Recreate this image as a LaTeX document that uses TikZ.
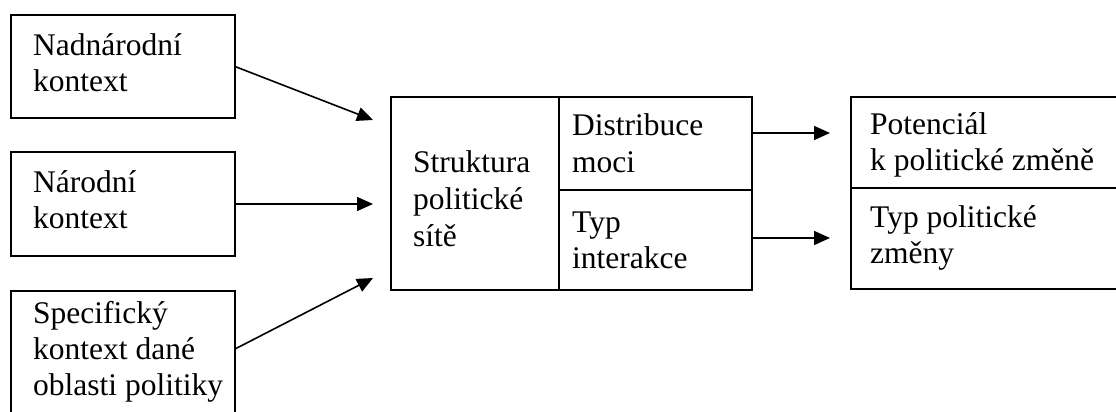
\documentclass[tikz,border=0pt]{standalone}
\usepackage{fontspec}
\setmainfont{Liberation Serif}
\usetikzlibrary{arrows.meta}
\begin{document}
\begin{tikzpicture}[x=1pt,y=-1pt,
  box/.style={draw, line width=1.6pt, inner sep=0pt, outer sep=0pt},
  lbl/.style={anchor=base west, inner sep=0pt, align=left, font=\fontsize{31.5}{36}\selectfont},
  arr/.style={line width=1.6pt, -{Triangle[length=16pt,width=14pt]}}]
\useasboundingbox (0,0) rectangle (1116,412);
\begin{scope}
\clip (0,0) rectangle (1116,412);
% left boxes
\node[box, minimum width=224pt, minimum height=103pt] (n1) at (123,66.5) {};
\node[box, minimum width=224pt, minimum height=104pt] (n2) at (123,204) {};
\node[box, minimum width=224pt, minimum height=139pt] (n3) at (123,360.5) {};
% middle block
\node[box, minimum width=168pt, minimum height=193pt] (struct) at (475,193.5) {};
\node[box, minimum width=193pt, minimum height=93pt] (dist) at (655.5,143.5) {};
\node[box, minimum width=193pt, minimum height=100pt] (typi) at (655.5,240) {};
% right block
\node[box, minimum width=279pt, minimum height=91pt] (pot) at (990.5,142.5) {};
\node[box, minimum width=279pt, minimum height=101pt] (typz) at (990.5,238.5) {};
\end{scope}
% texts (anchor = baseline of last line)
\node[lbl] (t1) at (33,92) {Nadnárodní\\kontext};
\node[lbl] (t2) at (33,228) {Národní\\kontext};
\node[lbl] (t3) at (33,395) {Specifický\\kontext dané\\oblasti politiky};
\node[lbl, font=\fontsize{31.5}{37}\selectfont] (t4) at (413,246) {Struktura\\politické\\sítě};
\node[lbl, font=\fontsize{31.5}{37}\selectfont] (t5) at (572,172) {Distribuce\\moci};
\node[lbl] (t6) at (572,268) {Typ\\interakce};
\node[lbl] (t7) at (870,170) {Potenciál\\k politické změně};
\node[lbl] (t8) at (870,263) {Typ politické\\změny};
% arrow ends
\coordinate (e1) at (373,120);
\coordinate (e2) at (373,204);
\coordinate (e3) at (373,278);
\coordinate (s3) at (235,349);
\coordinate (s4) at (752,133);
\coordinate (e4) at (830,133);
\coordinate (s5) at (752,238);
\coordinate (e5) at (830,238);
\draw[arr] (n1.east) -- (e1);
\draw[arr] (n2.east) -- (e2);
\draw[arr] (s3) -- (e3);
\draw[arr] (s4) -- (e4);
\draw[arr] (s5) -- (e5);
\end{tikzpicture}
\end{document}
